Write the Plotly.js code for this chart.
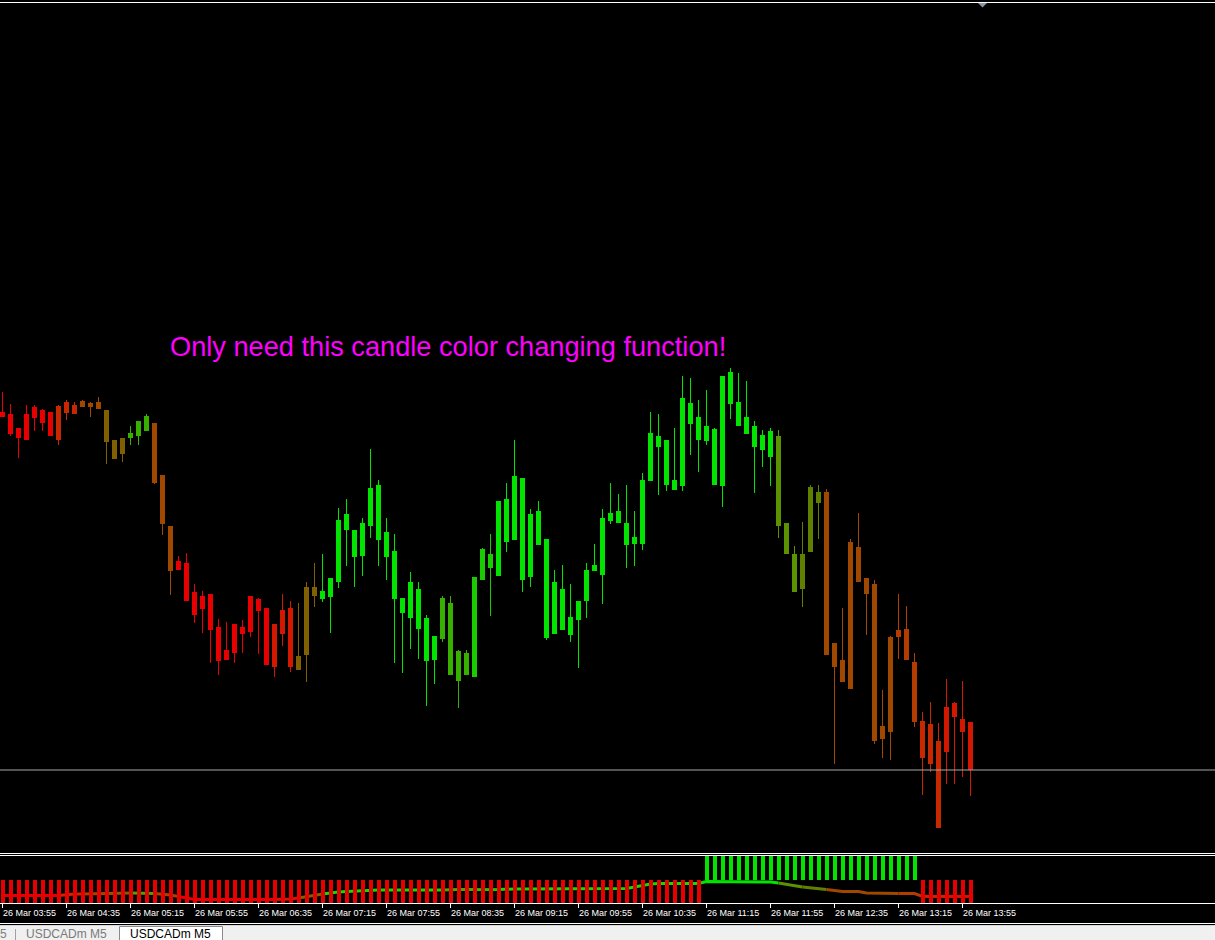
<!DOCTYPE html>
<html><head><meta charset="utf-8">
<script src="https://cdn.plot.ly/plotly-3.0.1.min.js"></script>
<style>html,body{margin:0;padding:0;background:#000;overflow:hidden}#chart{width:1215px;height:940px}</style>
</head><body><div id="chart"></div>
<script>
// USDCADm M5 candles (price in chart units, higher = up)
const openP = [
583.3,585.7,562.3,560.3,581.7,590,587.7,559.7,597.7,585.7,
592.7,597.3,590.7,589.7,559.7,546.3,562.3,564.3,569.3,576.7,
524.7,473.7,430.3,437,408,391,406,373,340.3,347.3,
373,368,401,392,333.3,366.3,392,330.3,345,413,
401,403,418.3,486,470,444.3,474.3,515,468,449,
402.3,382.3,411.3,382.3,340,361.3,397.3,319.3,347.3,323.3,
420.3,446,424.5,501,460.3,522,423.3,489,461.3,366.3,
411,365.3,380.3,399.3,429.3,425.3,479.3,489,477,456.3,
456.3,519.3,564,560,510.3,514.3,597,583,559.3,571.3,
514.3,627.7,598,566.3,574,550,569.3,564,477,446,
411.3,448.3,508,508,357,340,311.3,453,422,416,
261.3,268.3,363.3,371.3,338.3,279.3,276.3,172.3,248.3,297.3,
281.3,278.3];
const highP = [
608.3,596,571.7,595,595,591,588,595,600,598,
600,597.7,603,589.7,559.7,561.7,574.3,579,586,577,
525,474,444.3,447,416,409,406,381.3,378.3,376,
380.3,404,402,392,376.3,406,399,397,418,437,
446,422,492,501,470,482,551,520,482,466,
402.3,428,418,385,364.3,404.3,404.3,350,350.3,423.3,
452.3,466,499,517,560,522,491,499,461.3,430,
435,416,399,437,456,491,517,506,515,489,
527,588,586,560,572,624,622,600,610,572,
624,632,627,619,579,570,572,570,477,454,
478,515,515,511,357,392,461,487,422,420,
310,364.3,406,394,347,288.3,298.3,277.3,321.3,298.3,
319.3,278.3];
const lowP = [
583.3,564.3,542.3,560.3,569.3,569.3,564.3,555.3,580.3,585.7,
592.7,583.3,590.7,536.3,540.7,538.3,555,555,569.3,516.3,
465.3,405.3,430.3,399,377.3,367.3,337.3,325.3,340.3,337.3,
347.3,363.3,346.3,335,323.3,354.3,328.3,330.3,318.3,393.3,
398.3,367.3,412.3,434.3,413.3,424.3,462.3,434.3,420.3,337.3,
327.3,351.3,341.3,294.3,316.3,358.3,325.3,292.3,325.3,323.3,
420.3,384.3,424.5,448.3,460.3,408.3,413.3,455.3,360.3,366.3,
370.3,358.3,332.3,382.3,429.3,396.3,476.3,477.3,432.3,434.3,
450.3,519.3,505.3,509.3,510.3,509.3,545.3,528.3,555.3,515.3,
493.3,581.3,574.3,566.3,507.3,533.3,514.3,462.3,446.3,408.3,
393.3,448.3,460.7,345.3,235.7,318.3,311.3,418.3,365.3,256.3,
242.3,240.3,341.3,340.3,273.3,205.3,228.3,172.3,216.3,216.3,
223.3,204.3];
const closeP = [
587.7,566,571.7,585.7,592.7,576.7,564.3,594.3,586.7,594.7,
599.3,592.7,597.7,557.7,540.7,561.7,567,579,583.7,517.3,
475.7,429.3,438.7,399,385.3,404,370.3,339.3,350,376,
366.3,404,389.3,335,376,390,333,344,413,404.3,
409,422,480,470.3,443.3,476.7,512,460.3,443.3,401.3,
387.3,418,371.3,339.3,364.3,402.3,325.3,349.3,325.3,423.3,
451.3,432.3,499,458.3,524,420.3,486,455.3,362.3,418,
370.3,383,399,430,435.3,482.3,487,477.3,455.3,463.3,
520,567,553.3,515.3,520,602,576.3,560.3,574,515.3,
624,595.7,574.3,583,553.3,565,543.3,474.3,446.3,408.3,
446,513,496.7,345.3,333.3,318.3,458,418.3,406.3,259.3,
274.3,363.3,370.3,340.3,278.3,242.3,236.3,259.3,293.3,283.3,
268.3,230];
// trend state per candle: 0 = strong down ... 10 = strong up
const trendState = [
0,0,0,0,0,0,0,2,2,2,
4,4,4,5,5,5,8,8,8,4,
4,4,0,0,0,0,0,0,0,0,
0,0,0,0,1,1,1,5,5,5,
10,10,10,10,10,10,10,10,10,10,
10,10,10,10,10,8,8,8,8,9,
9,9,10,10,10,10,10,10,10,10,
10,10,10,10,10,10,10,10,10,10,
10,10,10,10,10,10,10,10,10,10,
10,10,10,10,10,10,10,7,7,7,
6,6,6,4,4,4,4,4,4,4,
4,4,3,3,3,2,2,2,1,1,
1,1];
// indicator sub-window: histogram direction and smoothed line
const histDir = [
-1,-1,-1,-1,-1,-1,-1,-1,-1,-1,
-1,-1,-1,-1,-1,-1,-1,-1,-1,-1,
-1,-1,-1,-1,-1,-1,-1,-1,-1,-1,
-1,-1,-1,-1,-1,-1,-1,-1,-1,-1,
-1,-1,-1,-1,-1,-1,-1,-1,-1,-1,
-1,-1,-1,-1,-1,-1,-1,-1,-1,-1,
-1,-1,-1,-1,-1,-1,-1,-1,-1,-1,
-1,-1,-1,-1,-1,-1,-1,-1,-1,-1,
-1,-1,-1,-1,-1,-1,-1,-1,1,1,
1,1,1,1,1,1,1,1,1,1,
1,1,1,1,1,1,1,1,1,1,
1,1,1,1,1,-1,-1,-1,-1,-1,
-1,-1];
const lineVal = [
-0.68,-0.68,-0.68,-0.68,-0.68,-0.68,-0.68,-0.68,-0.64,-0.62,
-0.62,-0.62,-0.62,-0.60,-0.60,-0.60,-0.57,-0.57,-0.57,-0.60,
-0.62,-0.66,-0.72,-0.79,-0.85,-0.85,-0.85,-0.85,-0.85,-0.85,
-0.85,-0.85,-0.85,-0.85,-0.85,-0.85,-0.83,-0.79,-0.74,-0.68,
-0.62,-0.57,-0.53,-0.51,-0.49,-0.47,-0.45,-0.45,-0.45,-0.45,
-0.45,-0.45,-0.45,-0.45,-0.45,-0.45,-0.43,-0.43,-0.43,-0.43,
-0.43,-0.43,-0.43,-0.40,-0.40,-0.40,-0.40,-0.40,-0.40,-0.40,
-0.40,-0.40,-0.40,-0.38,-0.38,-0.38,-0.38,-0.38,-0.38,-0.32,
-0.26,-0.19,-0.17,-0.17,-0.17,-0.17,-0.17,-0.17,-0.09,-0.09,
-0.09,-0.09,-0.09,-0.09,-0.09,-0.09,-0.11,-0.15,-0.21,-0.28,
-0.32,-0.36,-0.40,-0.43,-0.47,-0.51,-0.51,-0.51,-0.57,-0.57,
-0.57,-0.60,-0.60,-0.60,-0.60,-0.72,-0.72,-0.72,-0.72,-0.72,
-0.72,-0.72];
const tickIdx = [0,8,16,24,32,40,48,56,64,72,80,88,96,104,112,120];
const tickText = ['26 Mar 03:55','26 Mar 04:35','26 Mar 05:15','26 Mar 05:55','26 Mar 06:35','26 Mar 07:15','26 Mar 07:55','26 Mar 08:35','26 Mar 09:15','26 Mar 09:55','26 Mar 10:35','26 Mar 11:15','26 Mar 11:55','26 Mar 12:35','26 Mar 13:15','26 Mar 13:55'];
const noteText = 'Only need this candle color changing function!';
const tabLabels = ['5','USDCADm M5','USDCADm M5'];

// ---- styling / layout ----
const palette = ['#E80000','#D41800','#C82800','#B43C00','#A04800','#806000','#628000','#5A9200','#38B000','#18CC00','#00E400'];
const W = 1215, H = 940;
const px = v => v / W, py = v => (H - v) / H;
const n = openP.length;
const idx = openP.map((_, i) => i);
const cCol = trendState.map(s => palette[s]);
const bodyBase = idx.map(i => Math.min(openP[i], closeP[i]));
const bodyLen = idx.map(i => Math.max(Math.abs(closeP[i] - openP[i]), 1));
const wickLen = idx.map(i => Math.max(highP[i] - lowP[i], 1));

const traces = [];
traces.push({type:'bar', x: idx, y: wickLen, base: lowP, width: 0.125, marker:{color:cCol, line:{width:0}}, xaxis:'x', yaxis:'y', hoverinfo:'skip'});
traces.push({type:'bar', x: idx, y: bodyLen, base: bodyBase, width: 0.625, marker:{color:cCol, line:{width:0}}, xaxis:'x', yaxis:'y', hoverinfo:'skip'});
// indicator line, coloured by trend state
let s = 0;
for (let i = 1; i <= n; i++) {
  if (i === n || trendState[i] !== trendState[s]) {
    const e = Math.min(i, n - 1);
    traces.push({type:'scatter', mode:'lines', x: idx.slice(s, e + 1), y: lineVal.slice(s, e + 1),
      line:{color: palette[trendState[s]], width: 3}, xaxis:'x', yaxis:'y2', hoverinfo:'skip'});
    s = i;
  }
}
traces.push({type:'bar', x: idx, y: histDir, width: 0.5, marker:{color: histDir.map(v => v > 0 ? '#00E400' : '#E80000'), line:{width:0}}, xaxis:'x', yaxis:'y3', hoverinfo:'skip'});

const r0 = -2.5 / 8;
const annotations = tickIdx.map((t, k) => ({xref:'x', yref:'paper', x: t, y: py(913), xanchor:'left', yanchor:'middle', xshift:-2, showarrow:false, text: tickText[k], font:{size:9, color:'#FFFFFF', family:'Liberation Sans, Arial, sans-serif'}}));
annotations.push({xref:'paper', yref:'paper', x: px(170), y: py(347), xanchor:'left', yanchor:'middle', xshift:-2, showarrow:false, text: noteText, font:{size:27.2, color:'#FF00FF', family:'Liberation Sans, Arial, sans-serif'}});
annotations.push({xref:'paper', yref:'paper', x: px(-2), y: py(934), xanchor:'left', yanchor:'middle', showarrow:false, text: tabLabels[0], font:{size:12, color:'#808080', family:'Liberation Sans, Arial, sans-serif'}});
annotations.push({xref:'paper', yref:'paper', x: px(24), y: py(934), xanchor:'left', yanchor:'middle', showarrow:false, text: tabLabels[1], font:{size:12, color:'#7A7A7A', family:'Liberation Sans, Arial, sans-serif'}});
annotations.push({xref:'paper', yref:'paper', x: px(128), y: py(934), xanchor:'left', yanchor:'middle', showarrow:false, text: tabLabels[2], font:{size:12, color:'#000000', family:'Liberation Sans, Arial, sans-serif'}});

const hline = (y, color) => ({type:'line', xref:'paper', yref:'paper', x0:0, x1:1, y0:py(y), y1:py(y), line:{color, width:1}});
const shapes = [
  hline(2.5, '#FFFFFF'),
  hline(853.5, '#FFFFFF'),
  hline(855.5, '#FFFFFF'),
  {type:'rect', xref:'paper', yref:'paper', x0:0, x1:1, y0:py(940), y1:py(926), fillcolor:'#F0F0F0', line:{width:0}, layer:'below'},
  hline(923.5, '#FFFFFF'),
  hline(925.5, '#D8D8D8'),
  {type:'rect', xref:'paper', yref:'paper', x0:px(119.5), x1:px(222.5), y0:py(941), y1:py(926.5), fillcolor:'#FFFFFF', line:{color:'#8A8A8A', width:1}},
  {type:'line', xref:'paper', yref:'paper', x0:px(15.5), x1:px(15.5), y0:py(929), y1:py(940), line:{color:'#A0A0A0', width:1}},
  {type:'line', xref:'paper', yref:'y', x0:0, x1:1, y0: closeP[n-1], y1: closeP[n-1], line:{color:'#A8A8A8', width:1}},
  {type:'path', xref:'paper', yref:'paper', path:`M ${px(978)},${py(3)} L ${px(987)},${py(3)} L ${px(982.5)},${py(7.5)} Z`, fillcolor:'#8596A8', line:{width:0}}
];

const layout = {
  width: W, height: H, margin:{l:0, r:0, t:0, b:0},
  paper_bgcolor:'#000000', plot_bgcolor:'#000000',
  showlegend:false, barmode:'overlay', bargap:0,
  font:{family:'Liberation Sans, Arial, sans-serif', color:'#FFFFFF'},
  xaxis:{range:[r0, r0 + W / 8], anchor:'y2', showgrid:false, zeroline:false, showline:true, linecolor:'#FFFFFF', linewidth:1,
    tickmode:'array', tickvals: tickIdx, ticks:'outside', ticklen:4, tickcolor:'#FFFFFF', tickwidth:1, showticklabels:false, fixedrange:true},
  yaxis:{domain:[py(853), py(4)], range:[147, 996], visible:false, fixedrange:true},
  yaxis2:{domain:[py(903), py(856)], range:[-1, 1], visible:false, fixedrange:true},
  yaxis3:{overlaying:'y2', range:[-1, 1], visible:false, fixedrange:true},
  annotations, shapes
};
Plotly.newPlot('chart', traces, layout, {displayModeBar:false});
</script>
</body></html>
